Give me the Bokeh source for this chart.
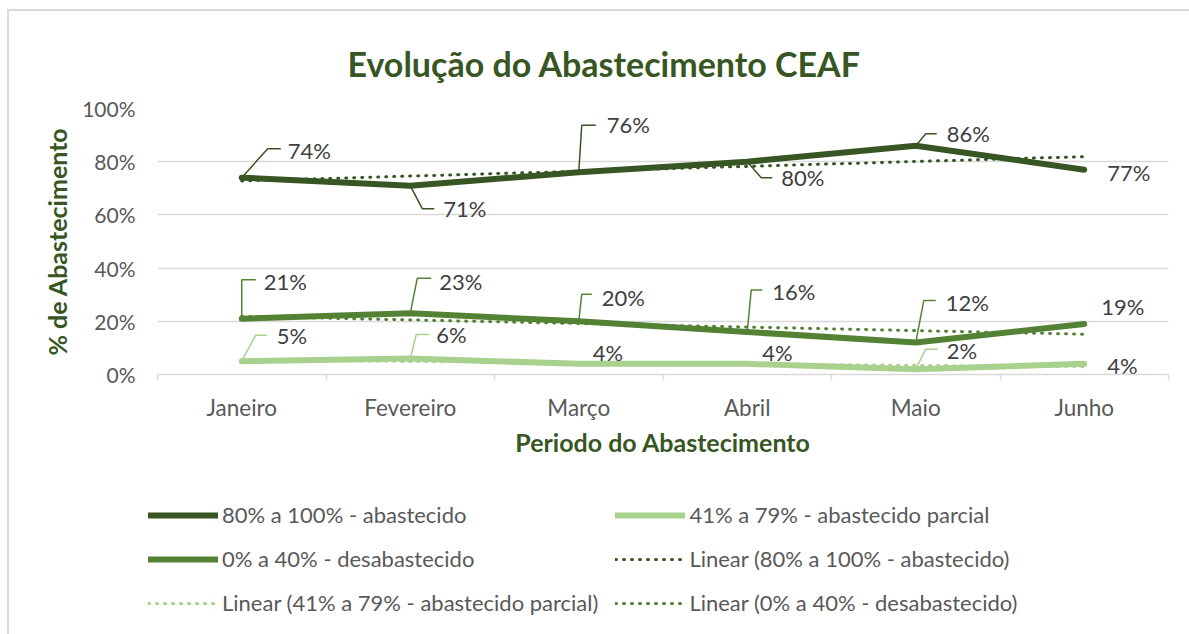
import numpy as np
from bokeh.plotting import figure
from bokeh.layouts import column
from bokeh.models import (ColumnDataSource, FixedTicker, Legend, LegendItem, Range1d)
from bokeh.core.properties import value
from bokeh.embed import file_html
from bokeh.resources import INLINE

# ---------------- data ----------------
months = ["Janeiro", "Fevereiro", "Março", "Abril", "Maio", "Junho"]
abastecido = [74, 71, 76, 80, 86, 77]          # 80% a 100% - abastecido
parcial = [5, 6, 4, 4, 2, 4]                    # 41% a 79% - abastecido parcial
desabastecido = [21, 23, 20, 16, 12, 19]        # 0% a 40% - desabastecido
y_ticks = [0, 20, 40, 60, 80, 100]

name_a = "80% a 100% - abastecido"
name_b = "41% a 79% - abastecido parcial"
name_c = "0% a 40% - desabastecido"
chart_title = "Evolução do Abastecimento CEAF"

# ---------------- style ----------------
C_A = "#375623"
C_B = "#A9D18E"
C_C = "#548235"
GRID = "#D9D9D9"
TXT = "#595959"
LBL = "#404040"
FONT = "Lato"

W = 1173
H1, H2 = 469, 138
BL, BR, BT, BB = 148, 14, 97, 106
FW = W - BL - BR
FH = H1 - BT - BB

x = list(range(1, len(months) + 1))

p = figure(width=W, height=H1, output_backend="svg", toolbar_location=None,
           x_range=Range1d(0.5, len(months) + 0.5), y_range=Range1d(0, 100),
           min_border_left=BL, min_border_right=BR, min_border_top=BT, min_border_bottom=BB)
p.outline_line_color = None
p.background_fill_color = "white"

# title
p.title.text = chart_title
p.title.text_font = FONT
p.title.text_font_size = "34px"
p.title.text_font_style = "bold"
p.title.text_color = C_A
p.title.align = "left"
p.title.offset = 190
p.title.standoff = 50

# axes
p.xaxis.ticker = FixedTicker(ticks=x, minor_ticks=[v - 0.5 for v in x] + [x[-1] + 0.5])
p.xaxis.major_label_overrides = {v: m for v, m in zip(x, months)}
p.xaxis.major_tick_out = 0
p.xaxis.major_tick_in = 0
p.xaxis.minor_tick_out = 6
p.xaxis.minor_tick_in = 0
p.xaxis.minor_tick_line_color = GRID
p.xaxis.minor_tick_line_width = 1.5
p.xaxis.axis_line_color = GRID
p.xaxis.axis_line_width = 1.5
p.xaxis.major_label_text_font = FONT
p.xaxis.major_label_text_font_size = "22.5px"
p.xaxis.major_label_text_color = TXT
p.xaxis.major_label_standoff = 13
p.xaxis.axis_label = "Periodo do Abastecimento"
p.xaxis.axis_label_text_font = FONT
p.xaxis.axis_label_text_font_size = "25px"
p.xaxis.axis_label_text_font_style = "bold"
p.xaxis.axis_label_text_color = C_A
p.xaxis.axis_label_standoff = 3

p.yaxis.ticker = FixedTicker(ticks=y_ticks)
p.yaxis.major_label_overrides = {v: f"{v}%" for v in y_ticks}
p.yaxis.axis_line_color = None
p.yaxis.major_tick_line_color = None
p.yaxis.minor_tick_line_color = None
p.yaxis.major_label_text_font = FONT
p.yaxis.major_label_text_font_size = "21px"
p.yaxis.major_label_text_color = TXT
p.yaxis.major_label_standoff = 16
p.yaxis.axis_label = "% de Abastecimento"
p.yaxis.axis_label_text_font = FONT
p.yaxis.axis_label_text_font_size = "25px"
p.yaxis.axis_label_text_font_style = "bold"
p.yaxis.axis_label_text_color = C_A
p.yaxis.axis_label_standoff = 7

p.xgrid.grid_line_color = None
p.ygrid.grid_line_color = GRID
p.ygrid.grid_line_width = 1.5

# ---------------- trend lines (linear fit of the series) ----------------
def trend(vals):
    k, b = np.polyfit(x, vals, 1)
    return [k * xi + b for xi in x]

TREND = dict(line_width=3, line_dash="1 7", line_cap="round")
SOLID = dict(line_width=6, line_cap="round", line_join="round")

p.line(x, trend(abastecido), line_color=C_A, **TREND)
p.line(x, trend(parcial), line_color=C_B, **TREND)
p.line(x, trend(desabastecido), line_color=C_C, **TREND)

# ---------------- series ----------------
p.line(x, parcial, line_color=C_B, **SOLID)
p.line(x, desabastecido, line_color=C_C, **SOLID)
p.line(x, abastecido, line_color=C_A, **SOLID)

# ---------------- data labels with leader lines ----------------
# text offsets (px, from point to label's left-middle; +y = down) and leader shapes (px)
PXX = FW / len(months)
PXY = FH / 100.0

lab_a = [(46, -27), (33, 23), (28, -48), (34, 16), (31, -12), (23, 3)]
lead_a = [[(0, 0), (26, -29), (39, -29)], [(0, 0), (12, 23), (24, 23)],
          [(0, 0), (3, -47), (17, -47)], [(0, 0), (14, 16), (25, 16)],
          [(0, 0), (10, -12), (21, -12)], None]
lab_c = [(22, -37), (29, -32), (23, -24), (25, -40), (30, -40), (17, -17)]
lead_c = [[(0, 0), (0, -39), (14, -39)], [(0, 0), (7, -35), (21, -35)],
          [(0, 0), (3, -27), (13, -27)], [(0, 0), (4, -42), (15, -42)],
          [(0, 0), (8, -42), (20, -42)], None]
lab_b = [(35, -26), (26, -24), (14, -11), (15, -11), (31, -19), (23, 2)]
lead_b = [[(0, 0), (14, -26), (25, -26)], [(0, 0), (6, -24), (19, -24)],
          None, None, [(0, 0), (10, -20), (22, -20)], None]


def add_labels(vals, offs, leads, color):
    xs, ys = [], []
    for xi, yi, ld in zip(x, vals, leads):
        if ld is None:
            continue
        xs.append([xi + dx / PXX for dx, dy in ld])
        ys.append([yi - dy / PXY for dx, dy in ld])
    if xs:
        p.multi_line(xs, ys, line_color=color, line_width=1.5)
    src = ColumnDataSource(dict(x=x, y=vals, t=[f"{v}%" for v in vals],
                                dx=[o[0] for o in offs], dy=[o[1] for o in offs]))
    p.text("x", "y", text="t", x_offset="dx", y_offset="dy", source=src,
           text_align="left", text_baseline="middle", text_font=value(FONT),
           text_font_size="22px", text_color=LBL)


add_labels(abastecido, lab_a, lead_a, C_A)
add_labels(desabastecido, lab_c, lead_c, C_C)
add_labels(parcial, lab_b, lead_b, C_B)

# ---------------- legend (separate strip below the chart) ----------------
q = figure(width=W, height=H2, output_backend="svg", toolbar_location=None,
           x_range=Range1d(0, 1), y_range=Range1d(0, 1),
           min_border_left=0, min_border_right=0, min_border_top=0, min_border_bottom=0)
q.axis.visible = False
q.grid.visible = False
q.outline_line_color = None

# legend proxies: placed outside the visible range, only their legend glyphs show
OFF_X, OFF_Y = [-5, -4], [-5, -5]
g_a = q.line(OFF_X, OFF_Y, line_color=C_A, **SOLID)
g_b = q.line(OFF_X, OFF_Y, line_color=C_B, **SOLID)
g_c = q.line(OFF_X, OFF_Y, line_color=C_C, **SOLID)
g_ta = q.line(OFF_X, OFF_Y, line_color=C_A, **TREND)
g_tb = q.line(OFF_X, OFF_Y, line_color=C_B, **TREND)
g_tc = q.line(OFF_X, OFF_Y, line_color=C_C, **TREND)

items = [
    LegendItem(label=name_a, renderers=[g_a]),
    LegendItem(label=name_b, renderers=[g_b]),
    LegendItem(label=name_c, renderers=[g_c]),
    LegendItem(label=f"Linear ({name_a})", renderers=[g_ta]),
    LegendItem(label=f"Linear ({name_b})", renderers=[g_tb]),
    LegendItem(label=f"Linear ({name_c})", renderers=[g_tc]),
]
legend = Legend(items=items, location=(139, 2), orientation="horizontal", ncols=2,
                glyph_width=70, glyph_height=22, label_standoff=4, spacing=17,
                padding=0, margin=0, border_line_color=None, background_fill_alpha=0,
                label_text_font=FONT, label_text_font_size="22px", label_text_color=TXT)
q.add_layout(legend, "center")

layout = column(p, column(q, spacing=0), spacing=0,
                styles={"border-top": "2px solid #D9D9D9", "border-left": "2px solid #D9D9D9",
                        "margin-left": "7px", "margin-top": "9px",
                        "padding-right": "7px", "padding-bottom": "16px"})
open("out.html", "w").write(file_html(layout, INLINE))
